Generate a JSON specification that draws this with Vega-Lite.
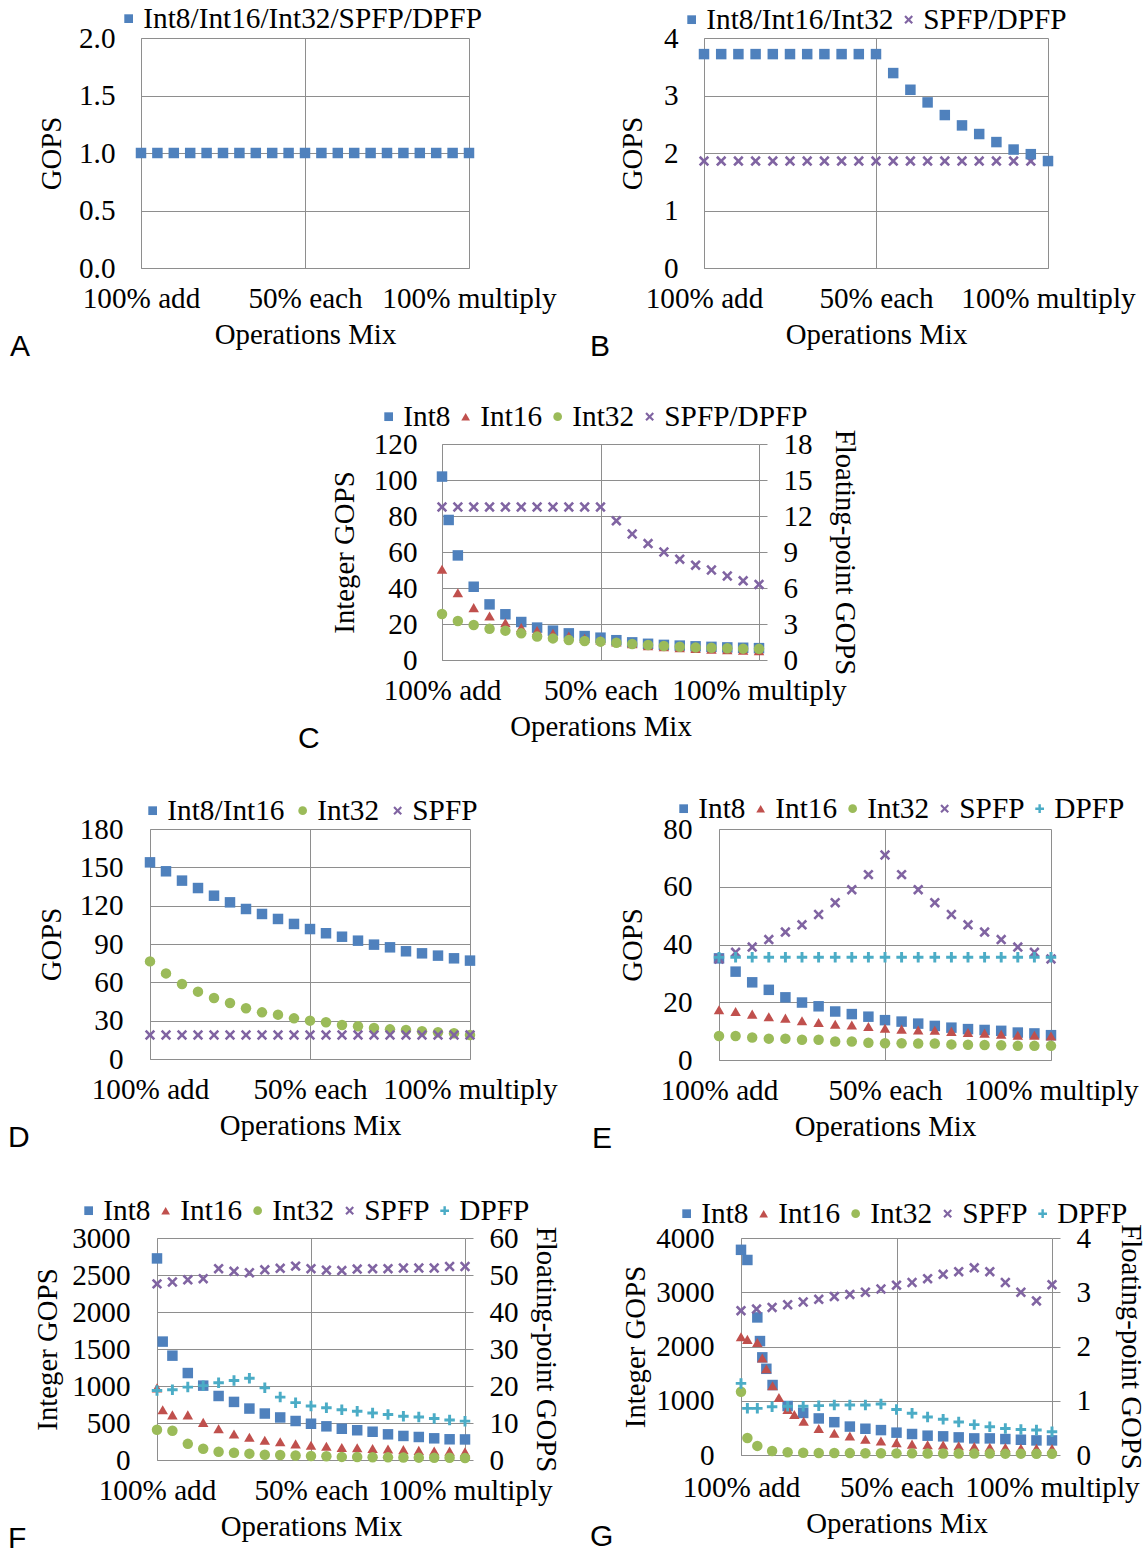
{
"$schema": "https://vega.github.io/schema/vega-lite/v6.json",
"padding": 0,
"background": "white",
"config": {
 "view": {"stroke": null},
 "font": "Liberation Serif",
 "axis": {"labelFont": "Liberation Serif", "labelFontSize": 29.2, "labelColor": "#000", "titleFont": "Liberation Serif", "titleFontSize": 28.8, "titleFontWeight": "normal", "titleColor": "#000", "gridColor": "#8e8e8e", "gridOpacity": 1, "domainColor": "#8e8e8e", "ticks": false, "tickColor": "#8e8e8e", "labelOverlap": false, "labelFlush": false, "labelBound": false, "labelLimit": 600},
 "legend": {"labelFont": "Liberation Serif", "labelFontSize": 29.3, "labelColor": "#000", "symbolSize": 76, "labelOffset": 0, "columnPadding": -1, "labelLimit": 1000, "padding": 0, "symbolStrokeWidth": 0},
 "title": {"font": "Liberation Sans", "fontSize": 30, "fontWeight": "normal", "color": "#000", "orient": "bottom", "anchor": "start", "baseline": "top", "frame": "group"}
},
"datasets": {
 "A": [
  {"mix":0,"series":"Int8/Int16/Int32/SPFP/DPFP","gops":1},{"mix":1,"series":"Int8/Int16/Int32/SPFP/DPFP","gops":1},{"mix":2,"series":"Int8/Int16/Int32/SPFP/DPFP","gops":1},{"mix":3,"series":"Int8/Int16/Int32/SPFP/DPFP","gops":1},{"mix":4,"series":"Int8/Int16/Int32/SPFP/DPFP","gops":1},{"mix":5,"series":"Int8/Int16/Int32/SPFP/DPFP","gops":1},{"mix":6,"series":"Int8/Int16/Int32/SPFP/DPFP","gops":1},{"mix":7,"series":"Int8/Int16/Int32/SPFP/DPFP","gops":1},{"mix":8,"series":"Int8/Int16/Int32/SPFP/DPFP","gops":1},{"mix":9,"series":"Int8/Int16/Int32/SPFP/DPFP","gops":1},{"mix":10,"series":"Int8/Int16/Int32/SPFP/DPFP","gops":1},{"mix":11,"series":"Int8/Int16/Int32/SPFP/DPFP","gops":1},{"mix":12,"series":"Int8/Int16/Int32/SPFP/DPFP","gops":1},{"mix":13,"series":"Int8/Int16/Int32/SPFP/DPFP","gops":1},{"mix":14,"series":"Int8/Int16/Int32/SPFP/DPFP","gops":1},{"mix":15,"series":"Int8/Int16/Int32/SPFP/DPFP","gops":1},{"mix":16,"series":"Int8/Int16/Int32/SPFP/DPFP","gops":1},{"mix":17,"series":"Int8/Int16/Int32/SPFP/DPFP","gops":1},{"mix":18,"series":"Int8/Int16/Int32/SPFP/DPFP","gops":1},{"mix":19,"series":"Int8/Int16/Int32/SPFP/DPFP","gops":1},{"mix":20,"series":"Int8/Int16/Int32/SPFP/DPFP","gops":1}
 ],
 "B": [
  {"mix":0,"series":"SPFP/DPFP","gops":1.86},{"mix":1,"series":"SPFP/DPFP","gops":1.86},{"mix":2,"series":"SPFP/DPFP","gops":1.86},{"mix":3,"series":"SPFP/DPFP","gops":1.86},{"mix":4,"series":"SPFP/DPFP","gops":1.86},{"mix":5,"series":"SPFP/DPFP","gops":1.86},{"mix":6,"series":"SPFP/DPFP","gops":1.86},{"mix":7,"series":"SPFP/DPFP","gops":1.86},{"mix":8,"series":"SPFP/DPFP","gops":1.86},{"mix":9,"series":"SPFP/DPFP","gops":1.86},{"mix":10,"series":"SPFP/DPFP","gops":1.86},{"mix":11,"series":"SPFP/DPFP","gops":1.86},{"mix":12,"series":"SPFP/DPFP","gops":1.86},{"mix":13,"series":"SPFP/DPFP","gops":1.86},{"mix":14,"series":"SPFP/DPFP","gops":1.86},{"mix":15,"series":"SPFP/DPFP","gops":1.86},{"mix":16,"series":"SPFP/DPFP","gops":1.86},{"mix":17,"series":"SPFP/DPFP","gops":1.86},{"mix":18,"series":"SPFP/DPFP","gops":1.86},{"mix":19,"series":"SPFP/DPFP","gops":1.86},{"mix":20,"series":"SPFP/DPFP","gops":1.86},
  {"mix":0,"series":"Int8/Int16/Int32","gops":3.72},{"mix":1,"series":"Int8/Int16/Int32","gops":3.72},{"mix":2,"series":"Int8/Int16/Int32","gops":3.72},{"mix":3,"series":"Int8/Int16/Int32","gops":3.72},{"mix":4,"series":"Int8/Int16/Int32","gops":3.72},{"mix":5,"series":"Int8/Int16/Int32","gops":3.72},{"mix":6,"series":"Int8/Int16/Int32","gops":3.72},{"mix":7,"series":"Int8/Int16/Int32","gops":3.72},{"mix":8,"series":"Int8/Int16/Int32","gops":3.72},{"mix":9,"series":"Int8/Int16/Int32","gops":3.72},{"mix":10,"series":"Int8/Int16/Int32","gops":3.72},{"mix":11,"series":"Int8/Int16/Int32","gops":3.39},{"mix":12,"series":"Int8/Int16/Int32","gops":3.10},{"mix":13,"series":"Int8/Int16/Int32","gops":2.88},{"mix":14,"series":"Int8/Int16/Int32","gops":2.66},{"mix":15,"series":"Int8/Int16/Int32","gops":2.48},{"mix":16,"series":"Int8/Int16/Int32","gops":2.33},{"mix":17,"series":"Int8/Int16/Int32","gops":2.19},{"mix":18,"series":"Int8/Int16/Int32","gops":2.06},{"mix":19,"series":"Int8/Int16/Int32","gops":1.98},{"mix":20,"series":"Int8/Int16/Int32","gops":1.86}
 ],
 "C_int": [
  {"mix":0,"series":"Int8","gops":101.9},{"mix":0.42,"series":"Int8","gops":77.8},{"mix":1,"series":"Int8","gops":58.1},{"mix":2,"series":"Int8","gops":40.7},{"mix":3,"series":"Int8","gops":30.9},{"mix":4,"series":"Int8","gops":25.4},{"mix":5,"series":"Int8","gops":21.1},{"mix":6,"series":"Int8","gops":18.0},{"mix":7,"series":"Int8","gops":16.3},{"mix":8,"series":"Int8","gops":14.8},{"mix":9,"series":"Int8","gops":13.3},{"mix":10,"series":"Int8","gops":12.4},{"mix":11,"series":"Int8","gops":11.0},{"mix":12,"series":"Int8","gops":9.8},{"mix":13,"series":"Int8","gops":9.0},{"mix":14,"series":"Int8","gops":8.4},{"mix":15,"series":"Int8","gops":8.0},{"mix":16,"series":"Int8","gops":7.6},{"mix":17,"series":"Int8","gops":7.3},{"mix":18,"series":"Int8","gops":7.0},{"mix":19,"series":"Int8","gops":6.8},{"mix":20,"series":"Int8","gops":6.6},
  {"mix":0,"series":"Int16","gops":50.4},{"mix":1,"series":"Int16","gops":37.4},{"mix":2,"series":"Int16","gops":29.1},{"mix":3,"series":"Int16","gops":24.4},{"mix":4,"series":"Int16","gops":20.7},{"mix":5,"series":"Int16","gops":18.1},{"mix":6,"series":"Int16","gops":16.3},{"mix":7,"series":"Int16","gops":14.8},{"mix":8,"series":"Int16","gops":13.3},{"mix":9,"series":"Int16","gops":12.0},{"mix":10,"series":"Int16","gops":11.1},{"mix":11,"series":"Int16","gops":10.0},{"mix":12,"series":"Int16","gops":9.0},{"mix":13,"series":"Int16","gops":8.0},{"mix":14,"series":"Int16","gops":7.4},{"mix":15,"series":"Int16","gops":6.8},{"mix":16,"series":"Int16","gops":6.4},{"mix":17,"series":"Int16","gops":6.0},{"mix":18,"series":"Int16","gops":5.7},{"mix":19,"series":"Int16","gops":5.4},{"mix":20,"series":"Int16","gops":5.2},
  {"mix":0,"series":"Int32","gops":25.6},{"mix":1,"series":"Int32","gops":21.7},{"mix":2,"series":"Int32","gops":19.4},{"mix":3,"series":"Int32","gops":17.4},{"mix":4,"series":"Int32","gops":16.3},{"mix":5,"series":"Int32","gops":14.8},{"mix":6,"series":"Int32","gops":13.0},{"mix":7,"series":"Int32","gops":12.0},{"mix":8,"series":"Int32","gops":11.1},{"mix":9,"series":"Int32","gops":10.6},{"mix":10,"series":"Int32","gops":10.2},{"mix":11,"series":"Int32","gops":9.6},{"mix":12,"series":"Int32","gops":8.9},{"mix":13,"series":"Int32","gops":8.3},{"mix":14,"series":"Int32","gops":7.8},{"mix":15,"series":"Int32","gops":7.4},{"mix":16,"series":"Int32","gops":7.0},{"mix":17,"series":"Int32","gops":6.8},{"mix":18,"series":"Int32","gops":6.5},{"mix":19,"series":"Int32","gops":6.3},{"mix":20,"series":"Int32","gops":6.2}
 ],
 "C_fp": [
  {"mix":0,"series":"SPFP/DPFP","gops":12.75},{"mix":1,"series":"SPFP/DPFP","gops":12.75},{"mix":2,"series":"SPFP/DPFP","gops":12.75},{"mix":3,"series":"SPFP/DPFP","gops":12.75},{"mix":4,"series":"SPFP/DPFP","gops":12.75},{"mix":5,"series":"SPFP/DPFP","gops":12.75},{"mix":6,"series":"SPFP/DPFP","gops":12.75},{"mix":7,"series":"SPFP/DPFP","gops":12.75},{"mix":8,"series":"SPFP/DPFP","gops":12.75},{"mix":9,"series":"SPFP/DPFP","gops":12.75},{"mix":10,"series":"SPFP/DPFP","gops":12.75},{"mix":11,"series":"SPFP/DPFP","gops":11.6},{"mix":12,"series":"SPFP/DPFP","gops":10.5},{"mix":13,"series":"SPFP/DPFP","gops":9.7},{"mix":14,"series":"SPFP/DPFP","gops":9.0},{"mix":15,"series":"SPFP/DPFP","gops":8.4},{"mix":16,"series":"SPFP/DPFP","gops":7.9},{"mix":17,"series":"SPFP/DPFP","gops":7.5},{"mix":18,"series":"SPFP/DPFP","gops":7.0},{"mix":19,"series":"SPFP/DPFP","gops":6.6},{"mix":20,"series":"SPFP/DPFP","gops":6.3}
 ],
 "D": [
  {"mix":0,"series":"Int8/Int16","gops":153.9},{"mix":1,"series":"Int8/Int16","gops":146.9},{"mix":2,"series":"Int8/Int16","gops":139.6},{"mix":3,"series":"Int8/Int16","gops":133.8},{"mix":4,"series":"Int8/Int16","gops":127.8},{"mix":5,"series":"Int8/Int16","gops":122.6},{"mix":6,"series":"Int8/Int16","gops":117.4},{"mix":7,"series":"Int8/Int16","gops":113.5},{"mix":8,"series":"Int8/Int16","gops":109.6},{"mix":9,"series":"Int8/Int16","gops":105.7},{"mix":10,"series":"Int8/Int16","gops":101.7},{"mix":11,"series":"Int8/Int16","gops":98.4},{"mix":12,"series":"Int8/Int16","gops":95.7},{"mix":13,"series":"Int8/Int16","gops":92.6},{"mix":14,"series":"Int8/Int16","gops":89.5},{"mix":15,"series":"Int8/Int16","gops":87.4},{"mix":16,"series":"Int8/Int16","gops":84.3},{"mix":17,"series":"Int8/Int16","gops":82.7},{"mix":18,"series":"Int8/Int16","gops":80.9},{"mix":19,"series":"Int8/Int16","gops":78.8},{"mix":20,"series":"Int8/Int16","gops":77.0},
  {"mix":0,"series":"Int32","gops":76.4},{"mix":1,"series":"Int32","gops":67.0},{"mix":2,"series":"Int32","gops":58.7},{"mix":3,"series":"Int32","gops":52.7},{"mix":4,"series":"Int32","gops":47.7},{"mix":5,"series":"Int32","gops":43.8},{"mix":6,"series":"Int32","gops":39.7},{"mix":7,"series":"Int32","gops":36.5},{"mix":8,"series":"Int32","gops":34.7},{"mix":9,"series":"Int32","gops":31.8},{"mix":10,"series":"Int32","gops":30.0},{"mix":11,"series":"Int32","gops":28.7},{"mix":12,"series":"Int32","gops":26.6},{"mix":13,"series":"Int32","gops":25.6},{"mix":14,"series":"Int32","gops":24.3},{"mix":15,"series":"Int32","gops":23.2},{"mix":16,"series":"Int32","gops":22.7},{"mix":17,"series":"Int32","gops":21.7},{"mix":18,"series":"Int32","gops":20.9},{"mix":19,"series":"Int32","gops":20.1},{"mix":20,"series":"Int32","gops":18.8},
  {"mix":0,"series":"SPFP","gops":18.8},{"mix":1,"series":"SPFP","gops":18.8},{"mix":2,"series":"SPFP","gops":18.8},{"mix":3,"series":"SPFP","gops":18.8},{"mix":4,"series":"SPFP","gops":18.8},{"mix":5,"series":"SPFP","gops":18.8},{"mix":6,"series":"SPFP","gops":18.8},{"mix":7,"series":"SPFP","gops":18.8},{"mix":8,"series":"SPFP","gops":18.8},{"mix":9,"series":"SPFP","gops":18.8},{"mix":10,"series":"SPFP","gops":18.8},{"mix":11,"series":"SPFP","gops":18.8},{"mix":12,"series":"SPFP","gops":18.8},{"mix":13,"series":"SPFP","gops":18.8},{"mix":14,"series":"SPFP","gops":18.8},{"mix":15,"series":"SPFP","gops":18.8},{"mix":16,"series":"SPFP","gops":18.8},{"mix":17,"series":"SPFP","gops":18.8},{"mix":18,"series":"SPFP","gops":18.8},{"mix":19,"series":"SPFP","gops":18.8},{"mix":20,"series":"SPFP","gops":18.8}
 ],
 "E": [
  {"mix":0,"series":"Int8","gops":35.2},{"mix":1,"series":"Int8","gops":30.6},{"mix":2,"series":"Int8","gops":26.9},{"mix":3,"series":"Int8","gops":24.3},{"mix":4,"series":"Int8","gops":21.7},{"mix":5,"series":"Int8","gops":19.9},{"mix":6,"series":"Int8","gops":18.6},{"mix":7,"series":"Int8","gops":16.8},{"mix":8,"series":"Int8","gops":15.9},{"mix":9,"series":"Int8","gops":15.0},{"mix":10,"series":"Int8","gops":13.8},{"mix":11,"series":"Int8","gops":13.3},{"mix":12,"series":"Int8","gops":12.6},{"mix":13,"series":"Int8","gops":11.8},{"mix":14,"series":"Int8","gops":11.2},{"mix":15,"series":"Int8","gops":10.7},{"mix":16,"series":"Int8","gops":10.4},{"mix":17,"series":"Int8","gops":10.1},{"mix":18,"series":"Int8","gops":9.5},{"mix":19,"series":"Int8","gops":9.2},{"mix":20,"series":"Int8","gops":8.6},
  {"mix":0,"series":"Int16","gops":17.4},{"mix":1,"series":"Int16","gops":16.8},{"mix":2,"series":"Int16","gops":15.9},{"mix":3,"series":"Int16","gops":15.0},{"mix":4,"series":"Int16","gops":14.5},{"mix":5,"series":"Int16","gops":13.6},{"mix":6,"series":"Int16","gops":13.0},{"mix":7,"series":"Int16","gops":12.4},{"mix":8,"series":"Int16","gops":12.1},{"mix":9,"series":"Int16","gops":11.6},{"mix":10,"series":"Int16","gops":11.0},{"mix":11,"series":"Int16","gops":10.7},{"mix":12,"series":"Int16","gops":10.4},{"mix":13,"series":"Int16","gops":10.3},{"mix":14,"series":"Int16","gops":9.9},{"mix":15,"series":"Int16","gops":9.5},{"mix":16,"series":"Int16","gops":9.3},{"mix":17,"series":"Int16","gops":8.9},{"mix":18,"series":"Int16","gops":8.6},{"mix":19,"series":"Int16","gops":8.6},{"mix":20,"series":"Int16","gops":8.3},
  {"mix":0,"series":"Int32","gops":8.3},{"mix":1,"series":"Int32","gops":8.3},{"mix":2,"series":"Int32","gops":7.8},{"mix":3,"series":"Int32","gops":7.4},{"mix":4,"series":"Int32","gops":7.4},{"mix":5,"series":"Int32","gops":7.0},{"mix":6,"series":"Int32","gops":7.0},{"mix":7,"series":"Int32","gops":6.4},{"mix":8,"series":"Int32","gops":6.4},{"mix":9,"series":"Int32","gops":6.0},{"mix":10,"series":"Int32","gops":5.8},{"mix":11,"series":"Int32","gops":5.8},{"mix":12,"series":"Int32","gops":5.7},{"mix":13,"series":"Int32","gops":5.7},{"mix":14,"series":"Int32","gops":5.4},{"mix":15,"series":"Int32","gops":5.3},{"mix":16,"series":"Int32","gops":5.2},{"mix":17,"series":"Int32","gops":5.1},{"mix":18,"series":"Int32","gops":4.9},{"mix":19,"series":"Int32","gops":4.9},{"mix":20,"series":"Int32","gops":4.9},
  {"mix":0,"series":"SPFP","gops":35.0},{"mix":1,"series":"SPFP","gops":37.3},{"mix":2,"series":"SPFP","gops":39.1},{"mix":3,"series":"SPFP","gops":41.7},{"mix":4,"series":"SPFP","gops":44.3},{"mix":5,"series":"SPFP","gops":46.8},{"mix":6,"series":"SPFP","gops":50.4},{"mix":7,"series":"SPFP","gops":54.5},{"mix":8,"series":"SPFP","gops":59.0},{"mix":9,"series":"SPFP","gops":64.2},{"mix":10,"series":"SPFP","gops":71.0},{"mix":11,"series":"SPFP","gops":64.2},{"mix":12,"series":"SPFP","gops":59.0},{"mix":13,"series":"SPFP","gops":54.5},{"mix":14,"series":"SPFP","gops":50.4},{"mix":15,"series":"SPFP","gops":46.8},{"mix":16,"series":"SPFP","gops":44.3},{"mix":17,"series":"SPFP","gops":41.7},{"mix":18,"series":"SPFP","gops":39.1},{"mix":19,"series":"SPFP","gops":37.3},{"mix":20,"series":"SPFP","gops":35.0},
  {"mix":0,"series":"DPFP","gops":35.6},{"mix":1,"series":"DPFP","gops":35.6},{"mix":2,"series":"DPFP","gops":35.6},{"mix":3,"series":"DPFP","gops":35.6},{"mix":4,"series":"DPFP","gops":35.6},{"mix":5,"series":"DPFP","gops":35.6},{"mix":6,"series":"DPFP","gops":35.6},{"mix":7,"series":"DPFP","gops":35.6},{"mix":8,"series":"DPFP","gops":35.6},{"mix":9,"series":"DPFP","gops":35.6},{"mix":10,"series":"DPFP","gops":35.6},{"mix":11,"series":"DPFP","gops":35.6},{"mix":12,"series":"DPFP","gops":35.6},{"mix":13,"series":"DPFP","gops":35.6},{"mix":14,"series":"DPFP","gops":35.6},{"mix":15,"series":"DPFP","gops":35.6},{"mix":16,"series":"DPFP","gops":35.6},{"mix":17,"series":"DPFP","gops":35.6},{"mix":18,"series":"DPFP","gops":35.6},{"mix":19,"series":"DPFP","gops":35.6},{"mix":20,"series":"DPFP","gops":35.6}
 ],
 "F_int": [
  {"mix":0,"series":"Int8","gops":2724},{"mix":0.37,"series":"Int8","gops":1600},{"mix":1,"series":"Int8","gops":1410},{"mix":2,"series":"Int8","gops":1175},{"mix":3,"series":"Int8","gops":1005},{"mix":4,"series":"Int8","gops":865},{"mix":5,"series":"Int8","gops":785},{"mix":6,"series":"Int8","gops":695},{"mix":7,"series":"Int8","gops":628},{"mix":8,"series":"Int8","gops":575},{"mix":9,"series":"Int8","gops":527},{"mix":10,"series":"Int8","gops":490},{"mix":11,"series":"Int8","gops":455},{"mix":12,"series":"Int8","gops":422},{"mix":13,"series":"Int8","gops":402},{"mix":14,"series":"Int8","gops":382},{"mix":15,"series":"Int8","gops":347},{"mix":16,"series":"Int8","gops":325},{"mix":17,"series":"Int8","gops":311},{"mix":18,"series":"Int8","gops":293},{"mix":19,"series":"Int8","gops":280},{"mix":20,"series":"Int8","gops":278},
  {"mix":0,"series":"Int16","gops":975},{"mix":0.37,"series":"Int16","gops":678},{"mix":1,"series":"Int16","gops":610},{"mix":2,"series":"Int16","gops":610},{"mix":3,"series":"Int16","gops":508},{"mix":4,"series":"Int16","gops":422},{"mix":5,"series":"Int16","gops":352},{"mix":6,"series":"Int16","gops":307},{"mix":7,"series":"Int16","gops":267},{"mix":8,"series":"Int16","gops":247},{"mix":9,"series":"Int16","gops":218},{"mix":10,"series":"Int16","gops":200},{"mix":11,"series":"Int16","gops":185},{"mix":12,"series":"Int16","gops":170},{"mix":13,"series":"Int16","gops":166},{"mix":14,"series":"Int16","gops":156},{"mix":15,"series":"Int16","gops":148},{"mix":16,"series":"Int16","gops":140},{"mix":17,"series":"Int16","gops":130},{"mix":18,"series":"Int16","gops":122},{"mix":19,"series":"Int16","gops":120},{"mix":20,"series":"Int16","gops":110},
  {"mix":0,"series":"Int32","gops":408},{"mix":1,"series":"Int32","gops":395},{"mix":2,"series":"Int32","gops":218},{"mix":3,"series":"Int32","gops":152},{"mix":4,"series":"Int32","gops":112},{"mix":5,"series":"Int32","gops":98},{"mix":6,"series":"Int32","gops":86},{"mix":7,"series":"Int32","gops":70},{"mix":8,"series":"Int32","gops":68},{"mix":9,"series":"Int32","gops":60},{"mix":10,"series":"Int32","gops":55},{"mix":11,"series":"Int32","gops":50},{"mix":12,"series":"Int32","gops":42},{"mix":13,"series":"Int32","gops":40},{"mix":14,"series":"Int32","gops":38},{"mix":15,"series":"Int32","gops":36},{"mix":16,"series":"Int32","gops":34},{"mix":17,"series":"Int32","gops":32},{"mix":18,"series":"Int32","gops":30},{"mix":19,"series":"Int32","gops":30},{"mix":20,"series":"Int32","gops":28}
 ],
 "F_fp": [
  {"mix":0,"series":"SPFP","gops":47.6},{"mix":1,"series":"SPFP","gops":48.1},{"mix":2,"series":"SPFP","gops":48.7},{"mix":3,"series":"SPFP","gops":49.0},{"mix":4,"series":"SPFP","gops":51.7},{"mix":5,"series":"SPFP","gops":51.0},{"mix":6,"series":"SPFP","gops":50.6},{"mix":7,"series":"SPFP","gops":51.4},{"mix":8,"series":"SPFP","gops":51.8},{"mix":9,"series":"SPFP","gops":52.4},{"mix":10,"series":"SPFP","gops":51.7},{"mix":11,"series":"SPFP","gops":51.3},{"mix":12,"series":"SPFP","gops":51.2},{"mix":13,"series":"SPFP","gops":51.6},{"mix":14,"series":"SPFP","gops":51.7},{"mix":15,"series":"SPFP","gops":51.7},{"mix":16,"series":"SPFP","gops":51.9},{"mix":17,"series":"SPFP","gops":51.9},{"mix":18,"series":"SPFP","gops":51.9},{"mix":19,"series":"SPFP","gops":52.3},{"mix":20,"series":"SPFP","gops":52.3},
  {"mix":0,"series":"DPFP","gops":18.8},{"mix":1,"series":"DPFP","gops":19.0},{"mix":2,"series":"DPFP","gops":19.7},{"mix":3,"series":"DPFP","gops":20.1},{"mix":4,"series":"DPFP","gops":20.9},{"mix":5,"series":"DPFP","gops":21.5},{"mix":6,"series":"DPFP","gops":22.1},{"mix":7,"series":"DPFP","gops":19.5},{"mix":8,"series":"DPFP","gops":17.0},{"mix":9,"series":"DPFP","gops":15.5},{"mix":10,"series":"DPFP","gops":14.6},{"mix":11,"series":"DPFP","gops":14.1},{"mix":12,"series":"DPFP","gops":13.6},{"mix":13,"series":"DPFP","gops":13.2},{"mix":14,"series":"DPFP","gops":12.7},{"mix":15,"series":"DPFP","gops":12.3},{"mix":16,"series":"DPFP","gops":11.8},{"mix":17,"series":"DPFP","gops":11.6},{"mix":18,"series":"DPFP","gops":11.2},{"mix":19,"series":"DPFP","gops":10.8},{"mix":20,"series":"DPFP","gops":10.5}
 ],
 "G_int": [
  {"mix":0,"series":"Int8","gops":3782},{"mix":0.41,"series":"Int8","gops":3595},{"mix":1.05,"series":"Int8","gops":2536},{"mix":1.22,"series":"Int8","gops":2100},{"mix":1.37,"series":"Int8","gops":1800},{"mix":1.63,"series":"Int8","gops":1589},{"mix":2.03,"series":"Int8","gops":1290},{"mix":3,"series":"Int8","gops":903},{"mix":4,"series":"Int8","gops":775},{"mix":5,"series":"Int8","gops":674},{"mix":6,"series":"Int8","gops":605},{"mix":7,"series":"Int8","gops":524},{"mix":8,"series":"Int8","gops":484},{"mix":9,"series":"Int8","gops":459},{"mix":10,"series":"Int8","gops":412},{"mix":11,"series":"Int8","gops":387},{"mix":12,"series":"Int8","gops":356},{"mix":13,"series":"Int8","gops":344},{"mix":14,"series":"Int8","gops":325},{"mix":15,"series":"Int8","gops":306},{"mix":16,"series":"Int8","gops":306},{"mix":17,"series":"Int8","gops":294},{"mix":18,"series":"Int8","gops":281},{"mix":19,"series":"Int8","gops":269},{"mix":20,"series":"Int8","gops":269},
  {"mix":0,"series":"Int16","gops":2181},{"mix":0.41,"series":"Int16","gops":2131},{"mix":1.05,"series":"Int16","gops":2075},{"mix":1.37,"series":"Int16","gops":1788},{"mix":1.63,"series":"Int16","gops":1589},{"mix":2.03,"series":"Int16","gops":1277},{"mix":2.44,"series":"Int16","gops":1059},{"mix":3,"series":"Int16","gops":841},{"mix":3.43,"series":"Int16","gops":748},{"mix":4.03,"series":"Int16","gops":623},{"mix":5,"series":"Int16","gops":490},{"mix":6,"series":"Int16","gops":400},{"mix":7,"series":"Int16","gops":350},{"mix":8,"series":"Int16","gops":290},{"mix":9,"series":"Int16","gops":258},{"mix":10,"series":"Int16","gops":228},{"mix":11,"series":"Int16","gops":200},{"mix":12,"series":"Int16","gops":188},{"mix":13,"series":"Int16","gops":185},{"mix":14,"series":"Int16","gops":169},{"mix":15,"series":"Int16","gops":156},{"mix":16,"series":"Int16","gops":144},{"mix":17,"series":"Int16","gops":138},{"mix":18,"series":"Int16","gops":125},{"mix":19,"series":"Int16","gops":125},{"mix":20,"series":"Int16","gops":119},
  {"mix":0,"series":"Int32","gops":1165},{"mix":0.41,"series":"Int32","gops":312},{"mix":1.05,"series":"Int32","gops":168},{"mix":2,"series":"Int32","gops":75},{"mix":3,"series":"Int32","gops":50},{"mix":4,"series":"Int32","gops":40},{"mix":5,"series":"Int32","gops":38},{"mix":6,"series":"Int32","gops":36},{"mix":7,"series":"Int32","gops":35},{"mix":8,"series":"Int32","gops":33},{"mix":9,"series":"Int32","gops":32},{"mix":10,"series":"Int32","gops":30},{"mix":11,"series":"Int32","gops":30},{"mix":12,"series":"Int32","gops":28},{"mix":13,"series":"Int32","gops":28},{"mix":14,"series":"Int32","gops":27},{"mix":15,"series":"Int32","gops":26},{"mix":16,"series":"Int32","gops":26},{"mix":17,"series":"Int32","gops":25},{"mix":18,"series":"Int32","gops":25},{"mix":19,"series":"Int32","gops":24},{"mix":20,"series":"Int32","gops":24}
 ],
 "G_fp": [
  {"mix":0,"series":"SPFP","gops":2.66},{"mix":1,"series":"SPFP","gops":2.69},{"mix":2,"series":"SPFP","gops":2.72},{"mix":3,"series":"SPFP","gops":2.77},{"mix":4,"series":"SPFP","gops":2.82},{"mix":5,"series":"SPFP","gops":2.87},{"mix":6,"series":"SPFP","gops":2.92},{"mix":7,"series":"SPFP","gops":2.96},{"mix":8,"series":"SPFP","gops":3.0},{"mix":9,"series":"SPFP","gops":3.06},{"mix":10,"series":"SPFP","gops":3.13},{"mix":11,"series":"SPFP","gops":3.18},{"mix":12,"series":"SPFP","gops":3.25},{"mix":13,"series":"SPFP","gops":3.33},{"mix":14,"series":"SPFP","gops":3.38},{"mix":15,"series":"SPFP","gops":3.45},{"mix":16,"series":"SPFP","gops":3.38},{"mix":17,"series":"SPFP","gops":3.18},{"mix":18,"series":"SPFP","gops":3.0},{"mix":19,"series":"SPFP","gops":2.84},{"mix":20,"series":"SPFP","gops":3.14},
  {"mix":0,"series":"DPFP","gops":1.32},{"mix":0.41,"series":"DPFP","gops":0.86},{"mix":1.05,"series":"DPFP","gops":0.86},{"mix":2,"series":"DPFP","gops":0.89},{"mix":3,"series":"DPFP","gops":0.9},{"mix":4,"series":"DPFP","gops":0.9},{"mix":5,"series":"DPFP","gops":0.91},{"mix":6,"series":"DPFP","gops":0.92},{"mix":7,"series":"DPFP","gops":0.92},{"mix":8,"series":"DPFP","gops":0.92},{"mix":9,"series":"DPFP","gops":0.94},{"mix":10,"series":"DPFP","gops":0.84},{"mix":11,"series":"DPFP","gops":0.77},{"mix":12,"series":"DPFP","gops":0.7},{"mix":13,"series":"DPFP","gops":0.66},{"mix":14,"series":"DPFP","gops":0.61},{"mix":15,"series":"DPFP","gops":0.56},{"mix":16,"series":"DPFP","gops":0.52},{"mix":17,"series":"DPFP","gops":0.49},{"mix":18,"series":"DPFP","gops":0.47},{"mix":19,"series":"DPFP","gops":0.46},{"mix":20,"series":"DPFP","gops":0.43}
 ]
},
"spacing": 0,
"bounds": "flush",
"resolve": {"scale": {"color": "independent", "shape": "independent", "x": "independent", "y": "independent"}},
"vconcat": [
 {"width": 1, "height": 38, "data": {"values": []}, "mark": "point"},
 {
  "spacing": 0, "bounds": "flush",
  "resolve": {"scale": {"color": "independent", "shape": "independent", "x": "independent", "y": "independent"}},
  "hconcat": [
   {"width": 141, "height": 1, "data": {"values": []}, "mark": "point"},
   {
    "width": 328, "height": 230,
    "title": {"text": "A", "dx": -131, "offset": -17},
    "data": {"name": "A"},
    "mark": {"type": "point", "filled": true, "opacity": 1, "size": 110},
    "encoding": {
     "x": {"field": "mix", "type": "quantitative", "scale": {"domain": [0, 20], "nice": false, "zero": false}, "axis": {"values": [0, 10, 20], "labelExpr": "datum.value == 0 ? '100% add' : datum.value == 10 ? '50% each' : '100% multiply'", "title": "Operations Mix", "grid": true, "labelPadding": 16, "titlePadding": 7}},
     "y": {"field": "gops", "type": "quantitative", "scale": {"domain": [0, 2], "nice": false}, "axis": {"values": [0, 0.5, 1, 1.5, 2], "format": ".1f", "title": "GOPS", "grid": true, "labelPadding": 26, "titlePadding": 12}},
     "color": {"field": "series", "type": "nominal", "scale": {"domain": ["Int8/Int16/Int32/SPFP/DPFP"], "range": ["#4f81bd"]}, "legend": {"orient": "none", "legendX": -27, "legendY": -34, "direction": "horizontal", "title": null}},
     "shape": {"field": "series", "type": "nominal", "scale": {"domain": ["Int8/Int16/Int32/SPFP/DPFP"], "range": ["square"]}, "legend": {"orient": "none", "legendX": -27, "legendY": -34, "direction": "horizontal", "title": null}}
    }
   },
   {"width": 235, "height": 1, "data": {"values": []}, "mark": "point"},
   {
    "width": 344, "height": 230,
    "title": {"text": "B", "dx": -114, "offset": -17},
    "data": {"name": "B"},
    "mark": {"type": "point", "filled": true, "opacity": 1, "size": 110},
    "encoding": {
     "x": {"field": "mix", "type": "quantitative", "scale": {"domain": [0, 20], "nice": false, "zero": false}, "axis": {"values": [0, 10, 20], "labelExpr": "datum.value == 0 ? '100% add' : datum.value == 10 ? '50% each' : '100% multiply'", "title": "Operations Mix", "grid": true, "labelPadding": 16, "titlePadding": 7}},
     "y": {"field": "gops", "type": "quantitative", "scale": {"domain": [0, 4], "nice": false}, "axis": {"values": [0, 1, 2, 3, 4], "format": "d", "title": "GOPS", "grid": true, "labelPadding": 26, "titlePadding": 16}},
     "color": {"field": "series", "type": "nominal", "scale": {"domain": ["Int8/Int16/Int32", "SPFP/DPFP"], "range": ["#4f81bd", "#8064a2"]}, "legend": {"orient": "none", "legendX": -27, "legendY": -33, "direction": "horizontal", "title": null}},
     "shape": {"field": "series", "type": "nominal", "scale": {"domain": ["Int8/Int16/Int32", "SPFP/DPFP"], "range": ["square", "M-0.65,-1L0,-0.35L0.65,-1L1,-0.65L0.35,0L1,0.65L0.65,1L0,0.35L-0.65,1L-1,0.65L-0.35,0L-1,-0.65Z"]}, "legend": {"orient": "none", "legendX": -27, "legendY": -33, "direction": "horizontal", "title": null}}
    }
   }
  ]
 },
 {"width": 1, "height": 406, "data": {"values": []}, "mark": "point"},
 {
  "spacing": 0, "bounds": "flush",
  "resolve": {"scale": {"color": "independent", "shape": "independent", "x": "independent", "y": "independent"}},
  "hconcat": [
   {"width": 442, "height": 1, "data": {"values": []}, "mark": "point"},
   {
    "width": 317, "height": 216,
    "title": {"text": "C", "dx": -144, "offset": -17},
    "layer": [
     {
      "data": {"name": "C_int"},
      "mark": {"type": "point", "filled": true, "opacity": 1, "size": 110},
      "encoding": {
       "x": {"field": "mix", "type": "quantitative", "scale": {"domain": [0, 20], "nice": false, "zero": false}, "axis": {"values": [0, 10, 20], "labelExpr": "datum.value == 0 ? '100% add' : datum.value == 10 ? '50% each' : '100% multiply'", "title": "Operations Mix", "grid": true, "labelPadding": 16, "titlePadding": 7}},
       "y": {"field": "gops", "type": "quantitative", "scale": {"domain": [0, 120], "nice": false}, "axis": {"values": [0, 20, 40, 60, 80, 100, 120], "format": "d", "title": "Integer GOPS", "grid": true, "labelPadding": 25, "titlePadding": 14}},
       "color": {"field": "series", "type": "nominal", "scale": {"domain": ["Int8", "Int16", "Int32", "SPFP/DPFP"], "range": ["#4f81bd", "#c0504d", "#9bbb59", "#8064a2"]}, "legend": {"orient": "none", "legendX": -68, "legendY": -42, "direction": "horizontal", "title": null}},
       "shape": {"field": "series", "type": "nominal", "scale": {"domain": ["Int8", "Int16", "Int32", "SPFP/DPFP"], "range": ["square", "triangle-up", "circle", "M-0.65,-1L0,-0.35L0.65,-1L1,-0.65L0.35,0L1,0.65L0.65,1L0,0.35L-0.65,1L-1,0.65L-0.35,0L-1,-0.65Z"]}, "legend": {"orient": "none", "legendX": -68, "legendY": -42, "direction": "horizontal", "title": null}}
      }
     },
     {
      "data": {"name": "C_fp"},
      "mark": {"type": "point", "filled": true, "opacity": 1, "size": 110},
      "encoding": {
       "x": {"field": "mix", "type": "quantitative"},
       "y": {"field": "gops", "type": "quantitative", "scale": {"domain": [0, 18], "nice": false}, "axis": {"orient": "right", "values": [0, 3, 6, 9, 12, 15, 18], "format": "d", "title": "Floating-point GOPS", "grid": false, "domain": false, "ticks": true, "tickSize": 8, "labelPadding": 16, "titlePadding": 17}},
       "color": {"field": "series", "type": "nominal", "scale": {"domain": ["Int8", "Int16", "Int32", "SPFP/DPFP"], "range": ["#4f81bd", "#c0504d", "#9bbb59", "#8064a2"]}, "legend": {"orient": "none", "legendX": -68, "legendY": -42, "direction": "horizontal", "title": null}},
       "shape": {"field": "series", "type": "nominal", "scale": {"domain": ["Int8", "Int16", "Int32", "SPFP/DPFP"], "range": ["square", "triangle-up", "circle", "M-0.65,-1L0,-0.35L0.65,-1L1,-0.65L0.35,0L1,0.65L0.65,1L0,0.35L-0.65,1L-1,0.65L-0.35,0L-1,-0.65Z"]}, "legend": {"orient": "none", "legendX": -68, "legendY": -42, "direction": "horizontal", "title": null}}
      }
     }
    ],
    "resolve": {"scale": {"y": "independent"}}
   }
  ]
 },
 {"width": 1, "height": 385, "data": {"values": []}, "mark": "point"},
 {
  "spacing": 0, "bounds": "flush",
  "resolve": {"scale": {"color": "independent", "shape": "independent", "x": "independent", "y": "independent"}},
  "hconcat": [
   {"width": 150, "height": 1, "data": {"values": []}, "mark": "point"},
   {
    "width": 320, "height": 230,
    "title": {"text": "D", "dx": -142, "offset": -17},
    "data": {"name": "D"},
    "mark": {"type": "point", "filled": true, "opacity": 1, "size": 110},
    "encoding": {
     "x": {"field": "mix", "type": "quantitative", "scale": {"domain": [0, 20], "nice": false, "zero": false}, "axis": {"values": [0, 10, 20], "labelExpr": "datum.value == 0 ? '100% add' : datum.value == 10 ? '50% each' : '100% multiply'", "title": "Operations Mix", "grid": true, "labelPadding": 16, "titlePadding": 7}},
     "y": {"field": "gops", "type": "quantitative", "scale": {"domain": [0, 180], "nice": false}, "axis": {"values": [0, 30, 60, 90, 120, 150, 180], "format": "d", "title": "GOPS", "grid": true, "labelPadding": 27, "titlePadding": 13}},
     "color": {"field": "series", "type": "nominal", "scale": {"domain": ["Int8/Int16", "Int32", "SPFP"], "range": ["#4f81bd", "#9bbb59", "#8064a2"]}, "legend": {"orient": "none", "legendX": -12, "legendY": -33, "direction": "horizontal", "title": null, "columnPadding": 3}},
     "shape": {"field": "series", "type": "nominal", "scale": {"domain": ["Int8/Int16", "Int32", "SPFP"], "range": ["square", "circle", "M-0.65,-1L0,-0.35L0.65,-1L1,-0.65L0.35,0L1,0.65L0.65,1L0,0.35L-0.65,1L-1,0.65L-0.35,0L-1,-0.65Z"]}, "legend": {"orient": "none", "legendX": -12, "legendY": -33, "direction": "horizontal", "title": null, "columnPadding": 3}}
    }
   },
   {"width": 249, "height": 1, "data": {"values": []}, "mark": "point"},
   {
    "width": 332, "height": 231,
    "title": {"text": "E", "dx": -127, "offset": -17},
    "data": {"name": "E"},
    "mark": {"type": "point", "filled": true, "opacity": 1, "size": 110},
    "encoding": {
     "x": {"field": "mix", "type": "quantitative", "scale": {"domain": [0, 20], "nice": false, "zero": false}, "axis": {"values": [0, 10, 20], "labelExpr": "datum.value == 0 ? '100% add' : datum.value == 10 ? '50% each' : '100% multiply'", "title": "Operations Mix", "grid": true, "labelPadding": 16, "titlePadding": 7}},
     "y": {"field": "gops", "type": "quantitative", "scale": {"domain": [0, 80], "nice": false}, "axis": {"values": [0, 20, 40, 60, 80], "format": "d", "title": "GOPS", "grid": true, "labelPadding": 27, "titlePadding": 15}},
     "color": {"field": "series", "type": "nominal", "scale": {"domain": ["Int8", "Int16", "Int32", "SPFP", "DPFP"], "range": ["#4f81bd", "#c0504d", "#9bbb59", "#8064a2", "#4bacc6"]}, "legend": {"orient": "none", "legendX": -50, "legendY": -35, "direction": "horizontal", "title": null}},
     "shape": {"field": "series", "type": "nominal", "scale": {"domain": ["Int8", "Int16", "Int32", "SPFP", "DPFP"], "range": ["square", "triangle-up", "circle", "M-0.65,-1L0,-0.35L0.65,-1L1,-0.65L0.35,0L1,0.65L0.65,1L0,0.35L-0.65,1L-1,0.65L-0.35,0L-1,-0.65Z", "M-0.28,-1H0.28V-0.28H1V0.28H0.28V1H-0.28V0.28H-1V-0.28H-0.28Z"]}, "legend": {"orient": "none", "legendX": -50, "legendY": -35, "direction": "horizontal", "title": null}}
    }
   }
  ]
 },
 {"width": 1, "height": 409, "data": {"values": []}, "mark": "point"},
 {
  "spacing": 0, "bounds": "flush",
  "resolve": {"scale": {"color": "independent", "shape": "independent", "x": "independent", "y": "independent"}},
  "hconcat": [
   {"width": 157, "height": 1, "data": {"values": []}, "mark": "point"},
   {
    "width": 308, "height": 222,
    "title": {"text": "F", "dx": -149, "offset": -17},
    "layer": [
     {
      "data": {"name": "F_int"},
      "mark": {"type": "point", "filled": true, "opacity": 1, "size": 110},
      "encoding": {
       "x": {"field": "mix", "type": "quantitative", "scale": {"domain": [0, 20], "nice": false, "zero": false}, "axis": {"values": [0, 10, 20], "labelExpr": "datum.value == 0 ? '100% add' : datum.value == 10 ? '50% each' : '100% multiply'", "title": "Operations Mix", "grid": true, "labelPadding": 16, "titlePadding": 7}},
       "y": {"field": "gops", "type": "quantitative", "scale": {"domain": [0, 3000], "nice": false}, "axis": {"values": [0, 500, 1000, 1500, 2000, 2500, 3000], "format": "d", "title": "Integer GOPS", "grid": true, "labelPadding": 27, "titlePadding": 9}},
       "color": {"field": "series", "type": "nominal", "scale": {"domain": ["Int8", "Int16", "Int32", "SPFP", "DPFP"], "range": ["#4f81bd", "#c0504d", "#9bbb59", "#8064a2", "#4bacc6"]}, "legend": {"orient": "none", "legendX": -83, "legendY": -42, "direction": "horizontal", "title": null}},
       "shape": {"field": "series", "type": "nominal", "scale": {"domain": ["Int8", "Int16", "Int32", "SPFP", "DPFP"], "range": ["square", "triangle-up", "circle", "M-0.65,-1L0,-0.35L0.65,-1L1,-0.65L0.35,0L1,0.65L0.65,1L0,0.35L-0.65,1L-1,0.65L-0.35,0L-1,-0.65Z", "M-0.28,-1H0.28V-0.28H1V0.28H0.28V1H-0.28V0.28H-1V-0.28H-0.28Z"]}, "legend": {"orient": "none", "legendX": -83, "legendY": -42, "direction": "horizontal", "title": null}}
      }
     },
     {
      "data": {"name": "F_fp"},
      "mark": {"type": "point", "filled": true, "opacity": 1, "size": 110},
      "encoding": {
       "x": {"field": "mix", "type": "quantitative"},
       "y": {"field": "gops", "type": "quantitative", "scale": {"domain": [0, 60], "nice": false}, "axis": {"orient": "right", "values": [0, 10, 20, 30, 40, 50, 60], "format": "d", "title": "Floating-point GOPS", "grid": false, "domain": false, "ticks": true, "tickSize": 8, "labelPadding": 16, "titlePadding": 12}},
       "color": {"field": "series", "type": "nominal", "scale": {"domain": ["Int8", "Int16", "Int32", "SPFP", "DPFP"], "range": ["#4f81bd", "#c0504d", "#9bbb59", "#8064a2", "#4bacc6"]}, "legend": {"orient": "none", "legendX": -83, "legendY": -42, "direction": "horizontal", "title": null}},
       "shape": {"field": "series", "type": "nominal", "scale": {"domain": ["Int8", "Int16", "Int32", "SPFP", "DPFP"], "range": ["square", "triangle-up", "circle", "M-0.65,-1L0,-0.35L0.65,-1L1,-0.65L0.35,0L1,0.65L0.65,1L0,0.35L-0.65,1L-1,0.65L-0.35,0L-1,-0.65Z", "M-0.28,-1H0.28V-0.28H1V0.28H0.28V1H-0.28V0.28H-1V-0.28H-0.28Z"]}, "legend": {"orient": "none", "legendX": -83, "legendY": -42, "direction": "horizontal", "title": null}}
      }
     }
    ],
    "resolve": {"scale": {"y": "independent"}}
   },
   {"width": 276, "height": 1, "data": {"values": []}, "mark": "point"},
   {
    "width": 311, "height": 217,
    "title": {"text": "G", "dx": -151, "offset": -16},
    "layer": [
     {
      "data": {"name": "G_int"},
      "mark": {"type": "point", "filled": true, "opacity": 1, "size": 110},
      "encoding": {
       "x": {"field": "mix", "type": "quantitative", "scale": {"domain": [0, 20], "nice": false, "zero": false}, "axis": {"values": [0, 10, 20], "labelExpr": "datum.value == 0 ? '100% add' : datum.value == 10 ? '50% each' : '100% multiply'", "title": "Operations Mix", "grid": true, "labelPadding": 18, "titlePadding": 7}},
       "y": {"field": "gops", "type": "quantitative", "scale": {"domain": [0, 4000], "nice": false}, "axis": {"values": [0, 1000, 2000, 3000, 4000], "format": "d", "title": "Integer GOPS", "grid": true, "labelPadding": 27, "titlePadding": 5}},
       "color": {"field": "series", "type": "nominal", "scale": {"domain": ["Int8", "Int16", "Int32", "SPFP", "DPFP"], "range": ["#4f81bd", "#c0504d", "#9bbb59", "#8064a2", "#4bacc6"]}, "legend": {"orient": "none", "legendX": -69, "legendY": -39, "direction": "horizontal", "title": null}},
       "shape": {"field": "series", "type": "nominal", "scale": {"domain": ["Int8", "Int16", "Int32", "SPFP", "DPFP"], "range": ["square", "triangle-up", "circle", "M-0.65,-1L0,-0.35L0.65,-1L1,-0.65L0.35,0L1,0.65L0.65,1L0,0.35L-0.65,1L-1,0.65L-0.35,0L-1,-0.65Z", "M-0.28,-1H0.28V-0.28H1V0.28H0.28V1H-0.28V0.28H-1V-0.28H-0.28Z"]}, "legend": {"orient": "none", "legendX": -69, "legendY": -39, "direction": "horizontal", "title": null}}
      }
     },
     {
      "data": {"name": "G_fp"},
      "mark": {"type": "point", "filled": true, "opacity": 1, "size": 110},
      "encoding": {
       "x": {"field": "mix", "type": "quantitative"},
       "y": {"field": "gops", "type": "quantitative", "scale": {"domain": [0, 4], "nice": false}, "axis": {"orient": "right", "values": [0, 1, 2, 3, 4], "format": "d", "title": "Floating-point GOPS", "grid": false, "domain": false, "ticks": true, "tickSize": 8, "labelPadding": 16, "titlePadding": 25}},
       "color": {"field": "series", "type": "nominal", "scale": {"domain": ["Int8", "Int16", "Int32", "SPFP", "DPFP"], "range": ["#4f81bd", "#c0504d", "#9bbb59", "#8064a2", "#4bacc6"]}, "legend": {"orient": "none", "legendX": -69, "legendY": -39, "direction": "horizontal", "title": null}},
       "shape": {"field": "series", "type": "nominal", "scale": {"domain": ["Int8", "Int16", "Int32", "SPFP", "DPFP"], "range": ["square", "triangle-up", "circle", "M-0.65,-1L0,-0.35L0.65,-1L1,-0.65L0.35,0L1,0.65L0.65,1L0,0.35L-0.65,1L-1,0.65L-0.35,0L-1,-0.65Z", "M-0.28,-1H0.28V-0.28H1V0.28H0.28V1H-0.28V0.28H-1V-0.28H-0.28Z"]}, "legend": {"orient": "none", "legendX": -69, "legendY": -39, "direction": "horizontal", "title": null}}
      }
     }
    ],
    "resolve": {"scale": {"y": "independent"}}
   }
  ]
 }
]
}
